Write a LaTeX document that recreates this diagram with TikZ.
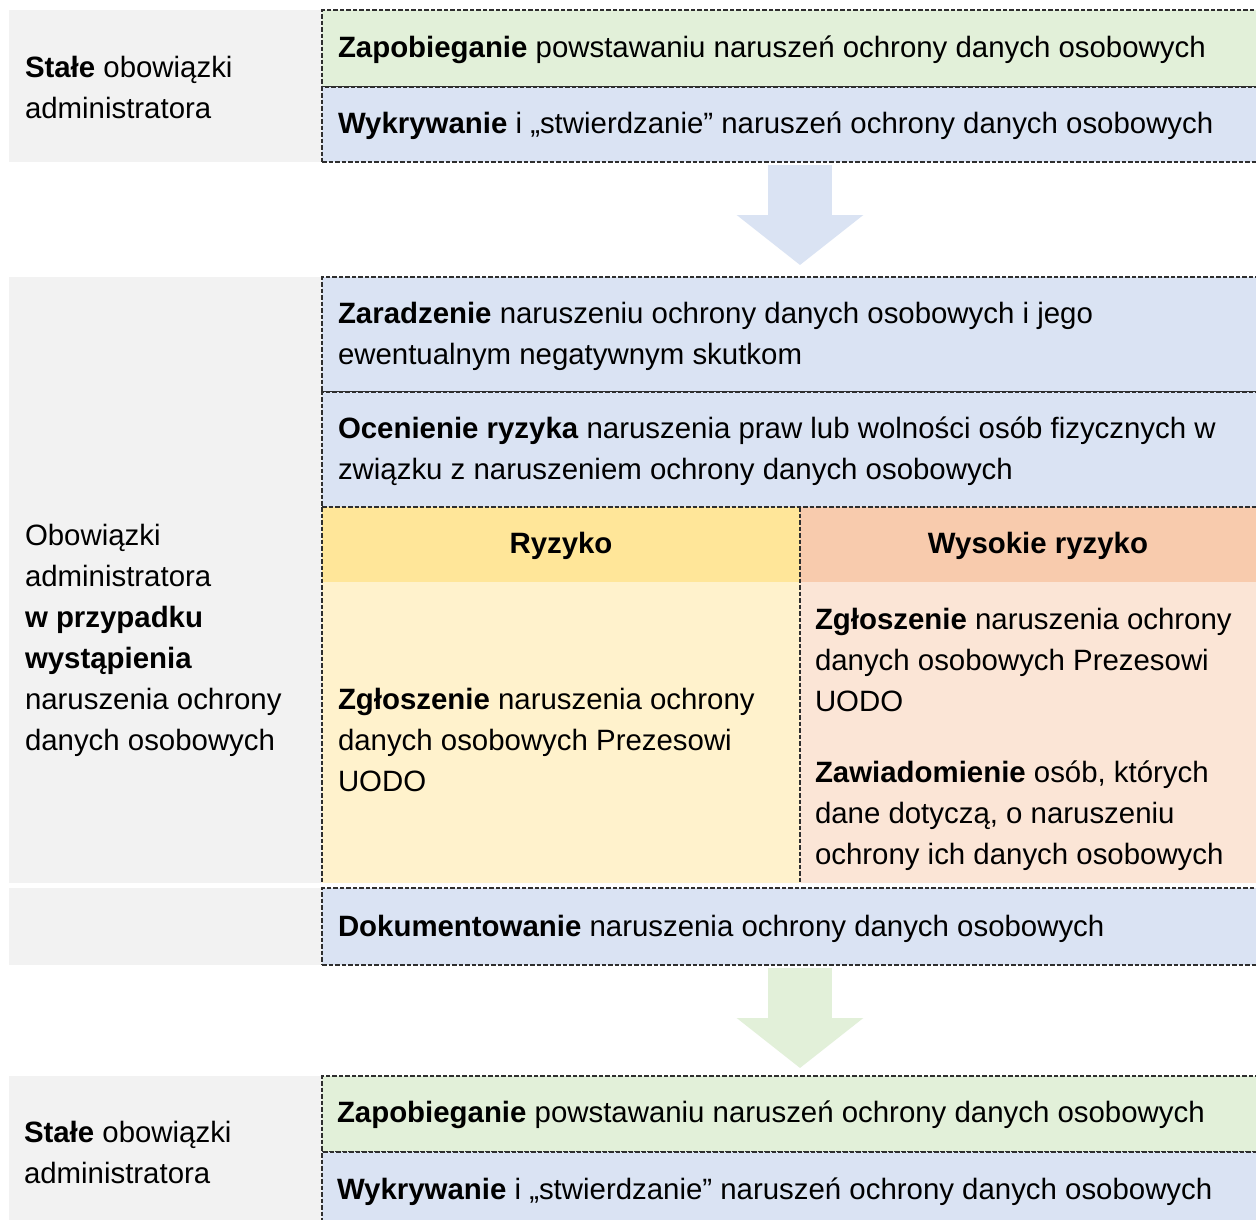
\documentclass[tikz,border=0pt]{standalone}
\usepackage{fontspec}
\setmainfont{Liberation Sans}
\usetikzlibrary{arrows.meta}
\definecolor{grayp}{HTML}{F2F2F2}
\definecolor{greenb}{HTML}{E2F0D9}
\definecolor{blueb}{HTML}{DAE3F3}
\definecolor{yelh}{HTML}{FFE699}
\definecolor{yelb}{HTML}{FFF2CC}
\definecolor{orah}{HTML}{F8CBAD}
\definecolor{orab}{HTML}{FBE5D6}
\definecolor{dashc}{HTML}{2E2E2E}
\begin{document}
\begin{tikzpicture}[x=1pt,y=-1pt,
  txt/.style={anchor=base west, inner sep=0pt, outer sep=0pt, align=left, font=\fontsize{29.4}{41}\selectfont},
  hdr/.style={anchor=base, inner sep=0pt, outer sep=0pt, font=\fontsize{29.4}{41}\selectfont\bfseries},
  panel/.style={rectangle, anchor=north west, inner sep=0pt, outer sep=0pt, fill=grayp, draw=none, minimum width=313pt},
  box/.style={rectangle, anchor=north west, inner sep=0pt, outer sep=0pt, minimum width=954pt},
  dline/.style={draw=dashc, line width=1.4pt, dash pattern=on 4.5pt off 2pt},
  bigarrow/.style={draw=#1, line width=64pt, line cap=butt, -{Triangle[length=50pt,width=124pt,fill=#1]}}
]
\clip (0,0) rectangle (1256,1219);
\fill[white] (0,0) rectangle (1256,1219);

% left grey panels
\node[panel, minimum height=152pt] (p1) at (9,10) {};
\node[panel, minimum height=606pt] (p2) at (9,277) {};
\node[panel, minimum height=77pt] (p3) at (9,888) {};
\node[panel, minimum height=150pt] (p4) at (9,1076) {};

% top boxes
\node[box, fill=greenb, dline, minimum height=77pt] (zap1) at (322,10) {};
\node[box, fill=blueb, dline, minimum height=75pt] (wyk1) at (322,87) {};

% middle boxes
\node[box, fill=blueb, dline, minimum height=115pt] (zar) at (322,277) {};
\node[box, fill=blueb, dline, minimum height=115pt] (oce) at (322,392) {};
\node[rectangle, anchor=north west, inner sep=0pt, fill=yelh, minimum width=478pt, minimum height=75pt] (ryzh) at (322,507) {};
\node[rectangle, anchor=north west, inner sep=0pt, fill=yelb, minimum width=478pt, minimum height=301pt] (ryzb) at (322,582) {};
\node[rectangle, anchor=north west, inner sep=0pt, fill=orah, minimum width=476pt, minimum height=75pt] (wysh) at (800,507) {};
\node[rectangle, anchor=north west, inner sep=0pt, fill=orab, minimum width=476pt, minimum height=301pt] (wysb) at (800,582) {};
\draw[dline] (ryzh.north west) -- (wysh.north east);
\draw[dline] (ryzh.north west) -- (ryzb.south west);
\draw[dline] (wysh.north west) -- (wysb.south west);

\node[box, fill=blueb, dline, minimum height=77pt] (doc) at (322,888) {};

% bottom boxes
\node[box, fill=greenb, dline, minimum height=76pt] (zap2) at (322,1076) {};
\node[box, fill=blueb, dline, minimum height=80pt] (wyk2) at (322,1152) {};

% arrows
\coordinate (a1s) at (800,165);
\coordinate (a1e) at (800,265);
\coordinate (a2s) at (800,968);
\coordinate (a2e) at (800,1068);
\draw[bigarrow=blueb] (a1s) -- (a1e);
\draw[bigarrow=greenb] (a2s) -- (a2e);

% texts (base = baseline of last line)
\node[txt] (t1) at (25,118) {\textbf{Stałe} obowiązki\\administratora};
\node[txt] (tz1) at (338,57) {\textbf{Zapobieganie} powstawaniu naruszeń ochrony danych osobowych};
\node[txt] (tw1) at (338,133) {\textbf{Wykrywanie} i „stwierdzanie” naruszeń ochrony danych osobowych};

\node[txt] (t2) at (25,750) {Obowiązki\\administratora\\\textbf{w przypadku}\\\textbf{wystąpienia}\\naruszenia ochrony\\danych osobowych};
\node[txt] (tzar) at (338,364) {\textbf{Zaradzenie} naruszeniu ochrony danych osobowych i jego\\ewentualnym negatywnym skutkom};
\node[txt] (toce) at (338,479) {\textbf{Ocenienie ryzyka} naruszenia praw lub wolności osób fizycznych w\\związku z naruszeniem ochrony danych osobowych};
\node[hdr] (thr) at (561,553) {Ryzyko};
\node[hdr] (thw) at (1038,553) {Wysokie ryzyko};
\node[txt] (tzr) at (338,791) {\textbf{Zgłoszenie} naruszenia ochrony\\danych osobowych Prezesowi\\UODO};
\node[txt] (tzw) at (815,711) {\textbf{Zgłoszenie} naruszenia ochrony\\danych osobowych Prezesowi\\UODO};
\node[txt] (tzaw) at (815,864) {\textbf{Zawiadomienie} osób, których\\dane dotyczą, o naruszeniu\\ochrony ich danych osobowych};
\node[txt] (tdoc) at (338,936) {\textbf{Dokumentowanie} naruszenia ochrony danych osobowych};

\node[txt] (t4) at (24,1183) {\textbf{Stałe} obowiązki\\administratora};
\node[txt] (tz2) at (337,1122) {\textbf{Zapobieganie} powstawaniu naruszeń ochrony danych osobowych};
\node[txt] (tw2) at (337,1199) {\textbf{Wykrywanie} i „stwierdzanie” naruszeń ochrony danych osobowych};
\end{tikzpicture}
\end{document}
